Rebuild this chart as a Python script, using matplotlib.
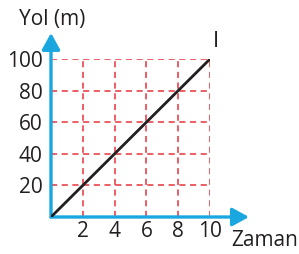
import matplotlib.pyplot as plt

# data
zaman = [0, 10]
yol = [0, 100]
x_ticks = [2, 4, 6, 8, 10]
y_ticks = [20, 40, 60, 80, 100]

blue = '#1aa7df'
red = '#e8323c'
dark = '#231f20'

plt.rcParams['font.family'] = ['Open Sans', 'DejaVu Sans']

fig = plt.figure(figsize=(2.99, 2.54), dpi=100)
ax = fig.add_axes([51 / 299, 37 / 254, 159 / 299, 158 / 254])
ax.set_xlim(0, 10)
ax.set_ylim(0, 100)
for s in ax.spines.values():
    s.set_visible(False)

# dashed grid
for x in x_ticks:
    ax.plot([x, x], [0, 100], color=red, lw=1.1, ls=(0, (4, 3)), zorder=1)
for y in y_ticks:
    ax.plot([0, 10], [y, y], color=red, lw=1.1, ls=(0, (4, 3)), zorder=1)

# axes arrows
ax.annotate('', xy=(12.45, 0), xytext=(0, 0), annotation_clip=False,
            arrowprops=dict(arrowstyle='-|>,head_length=1.0,head_width=0.55',
                            color=blue, lw=2.4, shrinkA=0, shrinkB=0))
ax.annotate('', xy=(0, 116.5), xytext=(0, 0), annotation_clip=False,
            arrowprops=dict(arrowstyle='-|>,head_length=1.0,head_width=0.55',
                            color=blue, lw=2.4, shrinkA=0, shrinkB=0))

# line
ax.plot(zaman, yol, color=dark, lw=2, zorder=3, solid_capstyle='round')

ax.set_xticks(x_ticks)
ax.set_yticks(y_ticks)
ax.tick_params(length=0, labelsize=15, colors=dark)
ax.tick_params(axis='x', pad=3)
ax.tick_params(axis='y', pad=6)

ax.text(10.4, 111, 'I', fontsize=16, color=dark, ha='center', va='center')
fig.text(19 / 299, 1 - 19 / 254, 'Yol (m)', fontsize=15, color=dark,
         ha='left', va='center')
fig.text(265 / 299, 1 - 241 / 254, 'Zaman', fontsize=15, color=dark,
         ha='center', va='center')

fig.savefig('out.png', dpi=100)
